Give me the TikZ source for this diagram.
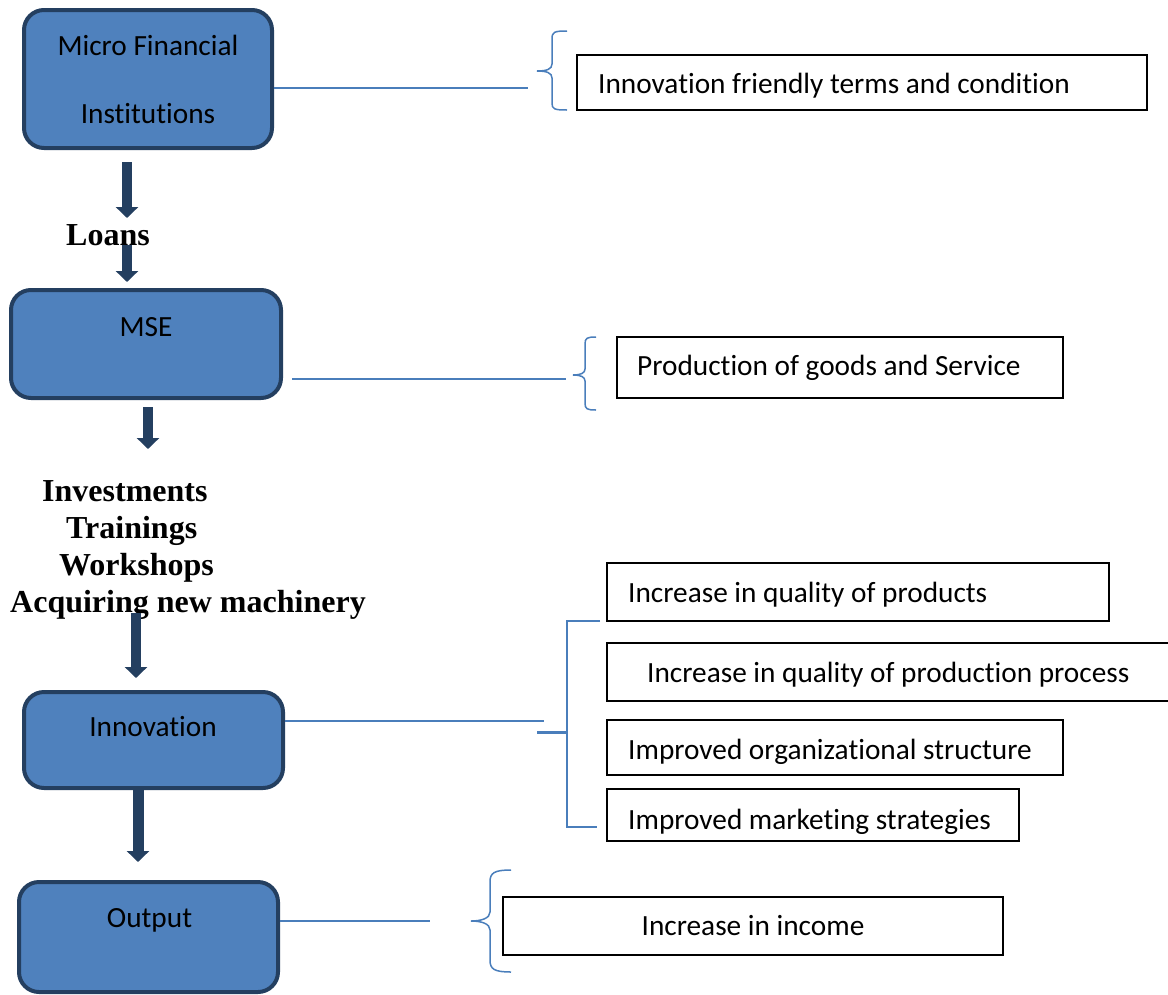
\documentclass[tikz,border=0pt]{standalone}
\usepackage{fontspec}
\setmainfont{Carlito}[Ligatures={NoCommon}]
\newfontfamily\tnr{Liberation Serif}
\usetikzlibrary{arrows.meta}
\definecolor{boxfill}{HTML}{4F81BD}
\definecolor{boxline}{HTML}{243F60}
\definecolor{linkblue}{HTML}{4A7EBB}
\tikzset{
 bigbox/.style={draw=boxline, fill=boxfill, line width=4pt, rounded corners=20pt, inner sep=0pt},
 txtbox/.style={draw=black, line width=1.3pt, inner sep=0pt},
 thickbox/.style={txtbox, line width=2.4pt},
 boxtext/.style={font=\fontsize{29.3}{35}\selectfont, anchor=base, inner sep=0pt},
 sidetext/.style={font=\fontsize{29.3}{35}\selectfont, anchor=base west, inner sep=0pt},
 steplabel/.style={font=\tnr\bfseries\fontsize{32}{37}\selectfont, anchor=base west, inner sep=0pt},
 flow/.style={draw=boxline, line width=10pt, -{Triangle[width=22pt,length=11pt]}},
 conn/.style={draw=linkblue, line width=1.5pt},
 bracket/.style={draw=linkblue, line width=1.5pt},
}
\begin{document}
\begin{tikzpicture}[x=1pt,y=-1pt]
\useasboundingbox (0,0) rectangle (1168,994);
\clip (0,0) rectangle (1168,994);

% main boxes
\node[bigbox, minimum width=248pt, minimum height=138pt] (mfi) at (148,79) {};
\node[boxtext] (mfi1) at (148,55) {Micro Financial};
\node[boxtext] (mfi2) at (148,123) {Institutions};

\node[bigbox, minimum width=270pt, minimum height=108pt] (mse) at (146,344) {};
\node[boxtext] (msetxt) at (146,336) {MSE};

\node[bigbox, minimum width=259pt, minimum height=96pt] (innov) at (153.5,740) {};
\node[boxtext] (innovtxt) at (153,736) {Innovation};

\node[bigbox, minimum width=259pt, minimum height=110pt] (output) at (148.5,937) {};
\node[boxtext] (outtxt) at (149.5,927) {Output};

% flow labels
\node[steplabel] (loans) at (66,245) {Loans};
\node[steplabel] (inv) at (42,501) {Investments};
\node[steplabel] (trn) at (66,538) {Trainings};
\node[steplabel] (wks) at (59,575) {Workshops};
\node[steplabel] (acq) at (10,612) {Acquiring new machinery};

% flow arrows
\coordinate (a1s) at (127,162); \coordinate (a1e) at (127,218);
\coordinate (a2s) at (127,245); \coordinate (a2e) at (127,282);
\coordinate (a3s) at (148,407); \coordinate (a3e) at (148,449);
\coordinate (a4s) at (136,613); \coordinate (a4e) at (136,678);
\coordinate (a5s) at (138,790); \coordinate (a5e) at (138,862);
\draw[flow] (a1s) -- (a1e);
\draw[flow] (a2s) -- (a2e);
\draw[flow] (a3s) -- (a3e);
\draw[flow] (a4s) -- (a4e);
\draw[flow, line width=11pt] (a5s) -- (a5e);

% side boxes
\node[txtbox, minimum width=570pt, minimum height=55pt] (t1) at (862,82.5) {};
\node[sidetext] (t1txt) at (598,93) {Innovation friendly terms and condition};

\node[txtbox, minimum width=446pt, minimum height=61pt] (t2) at (840,367.5) {};
\node[sidetext] (t2txt) at (637,375) {Production of goods and Service};

\node[txtbox, minimum width=502pt, minimum height=58pt] (ta) at (858,592) {};
\node[sidetext] (tatxt) at (628,602) {Increase in quality of products};

\node[txtbox, minimum width=565pt, minimum height=58pt] (tb) at (889.5,672) {};
\node[sidetext] (tbtxt) at (647,682) {Increase in quality of production process};

\node[thickbox, minimum width=456pt, minimum height=55pt] (tc) at (835,747.5) {};
\node[sidetext] (tctxt) at (628,759) {Improved organizational structure};

\node[thickbox, minimum width=412pt, minimum height=52pt] (td) at (813,815) {};
\begin{scope}
\clip (607,789) rectangle (1019,833);
\node[sidetext] (tdtxt) at (628,829) {Improved marketing strategies};
\end{scope}

\node[txtbox, minimum width=500pt, minimum height=58pt] (te) at (753,926) {};
\node[boxtext] (tetxt) at (753,935) {Increase in income};

% connector lines
\coordinate (l1e) at (528,88);
\draw[conn] (l1e -| mfi.east) -- (l1e);
\coordinate (l2s) at (292,379); \coordinate (l2e) at (566,379);
\draw[conn] (l2s) -- (l2e);
\coordinate (l3e) at (544,721);
\draw[conn] (l3e -| innov.east) -- (l3e);
\coordinate (l4e) at (430,921);
\draw[conn] (l4e -| output.east) -- (l4e);

% braces
\draw[bracket] (567,31) .. controls (554,31) and (552,32) .. (552,39) -- (552,64)
  .. controls (552,69) and (547,71) .. (537,71)
  .. controls (547,71) and (552,73) .. (552,78) -- (552,103)
  .. controls (552,109) and (554,110) .. (567,110);
\draw[bracket] (596,337) .. controls (587,337) and (585,338) .. (585,344) -- (585,369)
  .. controls (585,373) and (581,375) .. (573,375)
  .. controls (581,375) and (585,377) .. (585,381) -- (585,403)
  .. controls (585,409) and (587,410) .. (596,410);
\draw[bracket] (600,621) -- (567,621) -- (567,827) -- (597,827);
\draw[bracket, line width=3pt] (537,732) -- (567,732);
\draw[bracket] (511,870) .. controls (494,870) and (490,873) .. (490,882) -- (490,912)
  .. controls (490,918) and (482,921) .. (471,921)
  .. controls (482,921) and (490,924) .. (490,930) -- (490,960)
  .. controls (490,969) and (494,972) .. (511,972);
\end{tikzpicture}
\end{document}
